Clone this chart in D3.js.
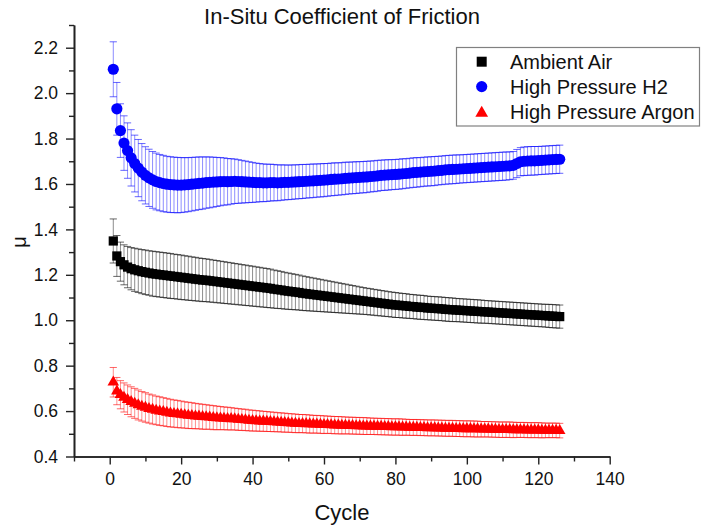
<!DOCTYPE html>
<html>
<head>
<meta charset="utf-8">
<script src="https://cdn.jsdelivr.net/npm/d3@7"></script>
<style>
  html, body { margin: 0; padding: 0; background: #fff; }
  svg { display: block; font-family: "Liberation Sans", Arial, sans-serif; }
</style>
</head>
<body>
<svg id="chart" width="701" height="529"></svg>
<script>
// Cycle number of each friction measurement
const cycles = [1,2,3,4,5,6,7,8,9,10,11,12,13,14,15,16,17,18,19,20,
  21,22,23,24,25,26,27,28,29,30,31,32,33,34,35,36,37,38,39,40,
  41,42,43,44,45,46,47,48,49,50,51,52,53,54,55,56,57,58,59,60,
  61,62,63,64,65,66,67,68,69,70,71,72,73,74,75,76,77,78,79,80,
  81,82,83,84,85,86,87,88,89,90,91,92,93,94,95,96,97,98,99,100,
  101,102,103,104,105,106,107,108,109,110,111,112,113,114,115,116,117,118,119,120,
  121,122,123,124,125,126];

// Ambient air: mean coefficient of friction and standard deviation
const airMu = [1.349,1.283,1.258,1.244,1.234,1.227,1.222,1.218,1.214,1.211,1.208,1.205,1.203,1.201,1.199,1.197,1.195,1.193,1.191,1.189,
  1.187,1.185,1.183,1.181,1.179,1.177,1.176,1.174,1.172,1.170,1.168,1.166,1.164,1.162,1.160,
  1.158,1.156,1.154,1.152,1.150,1.148,1.146,1.144,1.142,1.140,1.137,1.135,1.133,1.130,1.128,
  1.126,1.124,1.122,1.119,1.117,1.115,1.113,1.111,1.109,1.107,1.105,1.103,1.101,1.099,1.097,
  1.095,1.093,1.091,1.089,1.087,1.085,1.083,1.081,1.079,1.077,1.075,1.073,1.071,1.069,1.067,
  1.066,1.064,1.063,1.061,1.060,1.058,1.057,1.056,1.054,1.053,1.052,1.051,1.050,1.048,1.047,
  1.046,1.045,1.044,1.043,1.042,1.041,1.040,1.039,1.038,1.037,1.036,1.035,1.034,1.033,1.032,
  1.031,1.030,1.029,1.028,1.027,1.026,1.025,1.024,1.023,1.022,1.021,1.020,1.019,1.018,1.017,1.016];
const airErr = [0.097,0.090,0.086,0.088,0.091,0.093,0.095,0.096,0.097,0.098,0.098,0.099,0.099,0.099,0.099,0.099,0.099,0.098,0.098,0.098,
  0.097,0.097,0.096,0.096,0.095,0.095,0.094,0.094,0.093,0.093,0.092,0.092,0.091,0.091,0.090,
  0.090,0.089,0.089,0.088,0.088,0.087,0.087,0.086,0.086,0.085,0.084,0.083,0.082,0.081,0.080,
  0.079,0.078,0.077,0.076,0.075,0.074,0.073,0.072,0.071,0.070,0.069,0.068,0.067,0.066,0.065,
  0.064,0.063,0.062,0.061,0.060,0.059,0.058,0.058,0.057,0.057,0.056,0.056,0.055,0.055,0.055,
  0.054,0.054,0.054,0.053,0.053,0.053,0.053,0.053,0.052,0.052,0.052,0.052,0.052,0.052,0.052,
  0.052,0.051,0.051,0.051,0.051,0.051,0.051,0.051,0.051,0.050,0.050,0.050,0.050,0.050,0.050,
  0.050,0.050,0.050,0.050,0.050,0.050,0.050,0.050,0.050,0.050,0.050,0.050,0.051,0.051,0.051,0.051];

// High pressure hydrogen
const h2Mu = [2.105,1.931,1.835,1.780,1.747,1.715,1.690,1.670,1.652,1.638,1.627,1.618,1.611,1.606,1.602,1.599,1.597,1.596,1.595,1.595,
  1.596,1.597,1.599,1.601,1.603,1.604,1.606,1.607,1.608,1.609,
  1.610,1.611,1.610,1.611,1.612,1.611,1.610,1.609,1.608,1.607,
  1.606,1.606,1.605,1.605,1.606,1.606,1.605,1.606,1.607,1.607,1.608,1.609,1.610,1.611,1.612,
  1.613,1.614,1.615,1.616,1.617,1.618,1.620,1.621,1.622,1.623,1.625,1.626,1.627,1.628,1.629,
  1.630,1.631,1.633,1.634,1.636,1.638,1.639,1.640,1.641,1.642,1.643,1.645,1.646,1.648,1.650,
  1.651,1.652,1.654,1.655,1.656,1.657,1.659,1.660,1.662,1.663,1.664,1.665,1.666,1.667,1.668,
  1.669,1.670,1.671,1.672,1.673,1.674,1.675,1.676,1.677,1.678,1.679,1.680,1.682,1.690,1.698,
  1.700,1.701,1.702,1.702,1.703,1.704,1.705,1.706,1.707,1.708,1.709];
const h2Err = [0.121,0.116,0.118,0.120,0.122,0.124,0.125,0.126,0.126,0.126,0.126,0.125,0.125,0.124,0.124,0.123,0.123,0.122,0.122,0.121,
  0.120,0.119,0.118,0.117,0.116,0.115,0.113,0.112,0.110,0.108,0.106,0.104,0.102,0.100,0.098,
  0.096,0.094,0.092,0.090,0.088,0.086,0.084,0.083,0.082,0.081,0.080,0.079,0.078,0.077,0.076,
  0.076,0.075,0.075,0.075,0.074,0.074,0.074,0.073,0.073,0.073,0.072,0.072,0.072,0.071,0.071,
  0.071,0.070,0.070,0.070,0.069,0.069,0.069,0.068,0.068,0.068,0.067,0.067,0.067,0.066,0.066,
  0.066,0.066,0.065,0.065,0.065,0.065,0.064,0.064,0.064,0.064,0.064,0.063,0.063,0.063,0.063,
  0.063,0.063,0.062,0.062,0.062,0.062,0.062,0.062,0.062,0.062,0.062,0.062,0.062,0.062,0.062,
  0.062,0.061,0.061,0.062,0.062,0.063,0.063,0.063,0.063,0.062,0.062,0.062,0.062,0.062,0.062,0.062];

// High pressure argon
const arMu = [0.727,0.688,0.672,0.660,0.650,0.641,0.634,0.627,0.621,0.616,0.611,0.607,0.603,0.600,0.597,0.594,0.591,0.589,0.587,0.585,
  0.583,0.581,0.580,0.578,0.577,0.575,0.574,0.573,0.571,0.570,0.569,0.568,0.567,0.566,0.565,
  0.563,0.562,0.561,0.559,0.558,0.557,0.556,0.555,0.554,0.553,0.552,0.551,0.550,0.549,0.548,
  0.547,0.546,0.545,0.545,0.544,0.543,0.542,0.542,0.541,0.540,0.540,0.539,0.538,0.538,0.537,
  0.537,0.536,0.536,0.535,0.535,0.534,0.534,0.533,0.533,0.532,0.532,0.531,0.531,0.530,0.530,
  0.530,0.529,0.529,0.528,0.528,0.528,0.527,0.527,0.526,0.526,0.526,0.525,0.525,0.524,0.524,
  0.524,0.523,0.523,0.522,0.522,0.522,0.521,0.521,0.520,0.520,0.520,0.519,0.519,0.518,0.518,
  0.518,0.518,0.517,0.517,0.517,0.517,0.516,0.516,0.516,0.516,0.515,0.515,0.515,0.515,0.515,0.514];
const arErr = [0.065,0.060,0.062,0.064,0.065,0.066,0.066,0.066,0.065,0.065,0.064,0.064,0.063,0.063,0.062,0.062,0.061,0.060,0.060,0.059,
  0.058,0.058,0.057,0.056,0.055,0.055,0.054,0.053,0.053,0.052,0.051,0.050,0.050,0.049,0.048,
  0.048,0.047,0.047,0.046,0.046,0.045,0.045,0.044,0.044,0.043,0.043,0.042,0.042,0.042,0.041,
  0.041,0.041,0.040,0.040,0.040,0.040,0.039,0.039,0.039,0.039,0.038,0.038,0.038,0.038,0.038,
  0.037,0.037,0.037,0.037,0.037,0.037,0.037,0.036,0.036,0.036,0.036,0.036,0.036,0.036,0.036,
  0.036,0.036,0.035,0.035,0.035,0.035,0.035,0.035,0.035,0.035,0.035,0.035,0.035,0.035,0.035,
  0.035,0.035,0.035,0.035,0.035,0.035,0.035,0.035,0.034,0.034,0.034,0.034,0.034,0.034,0.034,
  0.034,0.034,0.034,0.033,0.033,0.033,0.033,0.033,0.033,0.033,0.033,0.032,0.032,0.032,0.032,0.032];

// Axis ticks
const xMajorTicks = [0, 20, 40, 60, 80, 100, 120, 140];
const xMinorTicks = [-10, 10, 30, 50, 70, 90, 110, 130];
const yMajorTicks = [0.4, 0.6, 0.8, 1.0, 1.2, 1.4, 1.6, 1.8, 2.0, 2.2];
const yMinorTicks = [0.5, 0.7, 0.9, 1.1, 1.3, 1.5, 1.7, 1.9, 2.1, 2.3];

const seriesNames = ["Ambient Air", "High Pressure H2", "High Pressure Argon"];
const seriesColors = ["#000000", "#0000ff", "#ff0000"];

const svg = d3.select("#chart");
svg.append("rect").attr("width", 701).attr("height", 529).attr("fill", "#fff");

const x = d3.scaleLinear().domain([-10, 140]).range([74, 609.7]);
const y = d3.scaleLinear().domain([0.4, 2.3]).range([456.5, 25]);

// Title
svg.append("text")
  .attr("x", 342).attr("y", 24)
  .attr("text-anchor", "middle")
  .attr("font-size", 22)
  .attr("fill", "#111")
  .text("In-Situ Coefficient of Friction");

// Axes
function styleAxis(g) {
  g.select(".domain").attr("stroke", "#222").attr("stroke-width", 1.6);
  g.selectAll(".tick line").attr("stroke", "#222").attr("stroke-width", 1.4);
  g.selectAll(".tick text").attr("fill", "#111").attr("font-size", 17.5)
    .attr("font-family", "Liberation Sans, Arial, sans-serif");
}

const xAxisG = svg.append("g").attr("transform", `translate(0,${y(0.4)})`);
xAxisG.call(d3.axisBottom(x).tickValues(xMinorTicks).tickSize(5).tickSizeOuter(0).tickFormat(""));
const xAxisMajor = svg.append("g").attr("transform", `translate(0,${y(0.4)})`)
  .call(d3.axisBottom(x).tickValues(xMajorTicks).tickSize(8).tickSizeOuter(0).tickPadding(8).tickFormat(d3.format("d")));
styleAxis(xAxisG); styleAxis(xAxisMajor);

const yAxisG = svg.append("g").attr("transform", `translate(${x(-10)},0)`);
yAxisG.call(d3.axisLeft(y).tickValues(yMinorTicks).tickSize(5).tickSizeOuter(0).tickFormat(""));
const yAxisMajor = svg.append("g").attr("transform", `translate(${x(-10)},0)`)
  .call(d3.axisLeft(y).tickValues(yMajorTicks).tickSize(8).tickSizeOuter(0).tickPadding(8).tickFormat(d3.format(".1f")));
styleAxis(yAxisG); styleAxis(yAxisMajor);

// Axis titles
svg.append("text")
  .attr("x", 342).attr("y", 520)
  .attr("text-anchor", "middle")
  .attr("font-size", 22)
  .attr("fill", "#111")
  .text("Cycle");

svg.append("text")
  .attr("transform", "translate(26,242) rotate(-90)")
  .attr("text-anchor", "middle")
  .attr("font-size", 20)
  .attr("fill", "#111")
  .text("μ");

// Series
const symbolTypes = [d3.symbolSquare, d3.symbolCircle, d3.symbolTriangle];
const symbolSizes = [85, 98, 58];
const seriesMu = [airMu, h2Mu, arMu];
const seriesErr = [airErr, h2Err, arErr];
const capHalf = 3.6;

seriesMu.forEach((mu, s) => {
  const rows = cycles.map((c, i) => ({ c, m: mu[i], e: seriesErr[s][i] }));
  const g = svg.append("g");
  const color = seriesColors[s];

  const eb = g.append("g").attr("stroke", color).attr("stroke-width", 1).attr("fill", "none");
  eb.selectAll("line.v").data(rows).join("line")
    .attr("class", "v")
    .attr("x1", d => x(d.c)).attr("x2", d => x(d.c))
    .attr("y1", d => y(d.m + d.e)).attr("y2", d => y(d.m - d.e))
    .attr("stroke-opacity", 0.45);
  eb.selectAll("line.t").data(rows).join("line")
    .attr("class", "t")
    .attr("x1", d => x(d.c) - capHalf).attr("x2", d => x(d.c) + capHalf)
    .attr("y1", d => y(d.m + d.e)).attr("y2", d => y(d.m + d.e))
    .attr("stroke-opacity", 0.6);
  eb.selectAll("line.b").data(rows).join("line")
    .attr("class", "b")
    .attr("x1", d => x(d.c) - capHalf).attr("x2", d => x(d.c) + capHalf)
    .attr("y1", d => y(d.m - d.e)).attr("y2", d => y(d.m - d.e))
    .attr("stroke-opacity", 0.6);

  const sym = d3.symbol().type(symbolTypes[s]).size(symbolSizes[s]);
  g.append("g").selectAll("path").data(rows).join("path")
    .attr("d", sym)
    .attr("transform", d => `translate(${x(d.c)},${y(d.m)})`)
    .attr("fill", color);
});

// Legend
const legend = svg.append("g");
legend.append("rect")
  .attr("x", 456.5).attr("y", 47.5).attr("width", 243).attr("height", 78.5)
  .attr("fill", "#fff").attr("stroke", "#808080").attr("stroke-width", 1.2);
const legendSizes = [100, 98, 70];
seriesNames.forEach((name, i) => {
  const cy = 61.7 + i * 24.9;
  legend.append("path")
    .attr("d", d3.symbol().type(symbolTypes[i]).size(legendSizes[i]))
    .attr("transform", `translate(481.7,${cy + (i === 2 ? 1.5 : 0)})`)
    .attr("fill", seriesColors[i]);
  legend.append("text")
    .attr("x", 510).attr("y", cy + 7.4)
    .attr("font-size", 20)
    .attr("fill", "#111")
    .text(name);
});
</script>
</body>
</html>
